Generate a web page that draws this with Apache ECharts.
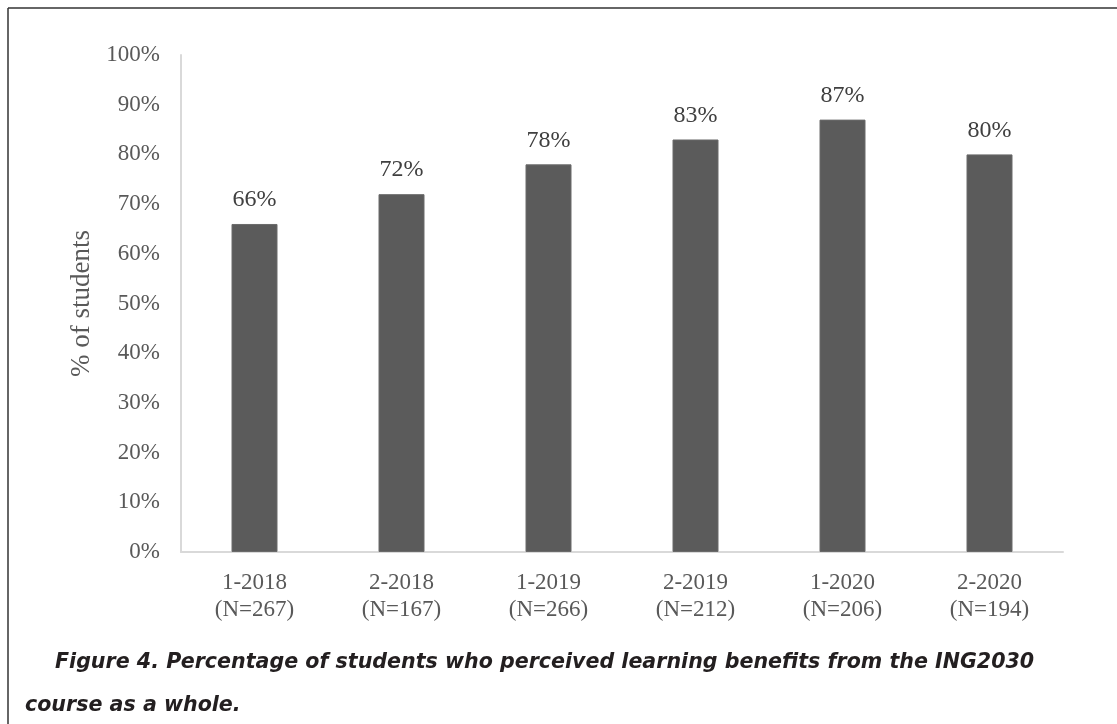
<!DOCTYPE html>
<html>
<head>
<meta charset="utf-8">
<script src="https://cdn.jsdelivr.net/npm/echarts@6/dist/echarts.min.js"></script>
<style>
html,body{margin:0;padding:0;background:#fff;}
#chart{width:1117px;height:724px;}
</style>
</head>
<body>
<div id="chart"></div>
<script>
const categories = ['1-2018\n(N=267)', '2-2018\n(N=167)', '1-2019\n(N=266)', '2-2019\n(N=212)', '1-2020\n(N=206)', '2-2020\n(N=194)'];
const values = [66, 72, 78, 83, 87, 80];
const yTicks = [0, 10, 20, 30, 40, 50, 60, 70, 80, 90, 100];
const yTitle = '% of students';
const captionLine1 = 'Figure 4. Percentage of students who perceived learning benefits from the ING2030';
const captionLine2 = 'course as a whole.';

const chart = echarts.init(document.getElementById('chart'));
const serif = '"Liberation Serif", "Times New Roman", serif';
const capFont = '"DejaVu Sans", sans-serif';
chart.setOption({
  animation: false,
  backgroundColor: '#fff',
  grid: { left: 181, right: 54, top: 55, bottom: 172, containLabel: false },
  xAxis: {
    type: 'category',
    data: categories,
    axisLine: { show: true, lineStyle: { color: '#d9d9d9', width: 2 } },
    axisTick: { show: false },
    axisLabel: { color: '#595959', fontFamily: serif, fontSize: 23, lineHeight: 27, margin: 17 }
  },
  yAxis: {
    type: 'value',
    min: 0, max: 100, interval: 10,
    name: yTitle,
    nameLocation: 'middle',
    nameGap: 86,
    nameRotate: 90,
    nameTextStyle: { color: '#595959', fontFamily: serif, fontSize: 27 },
    axisLine: { show: true, lineStyle: { color: '#d9d9d9', width: 2 } },
    axisTick: { show: false },
    splitLine: { show: false },
    axisLabel: { color: '#595959', fontFamily: serif, fontSize: 23, margin: 21,
      formatter: v => yTicks.includes(v) ? v + '%' : '' }
  },
  series: [{
    type: 'bar',
    data: values,
    barWidth: 46,
    itemStyle: { color: '#5b5b5b', borderColor: '#6a6a6a', borderWidth: 1 },
    label: { show: true, position: 'top', distance: 12, color: '#404040', fontFamily: serif, fontSize: 24,
      formatter: p => p.value + '%' }
  }],
  graphic: [
    { type: 'line', shape: { x1: 8, y1: 8, x2: 1117, y2: 8 }, style: { stroke: '#333', lineWidth: 1.5 } },
    { type: 'line', shape: { x1: 8, y1: 8, x2: 8, y2: 724 }, style: { stroke: '#333', lineWidth: 1.5 } },
    { type: 'text', left: 55, top: 652, style: { text: captionLine1, font: 'italic bold 20.6px ' + capFont, fill: '#231f20' } },
    { type: 'text', left: 25, top: 695, style: { text: captionLine2, font: 'italic bold 20.6px ' + capFont, fill: '#231f20' } }
  ]
});
</script>
</body>
</html>
